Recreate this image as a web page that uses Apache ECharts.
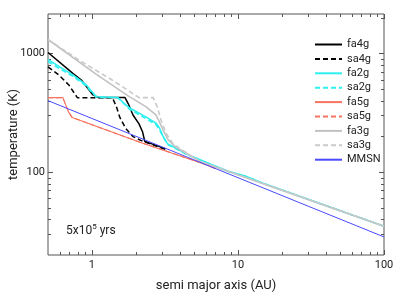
<!DOCTYPE html>
<html>
<head>
<meta charset="utf-8">
<script src="https://cdn.jsdelivr.net/npm/echarts@6/dist/echarts.min.js"></script>
<style>
html,body{margin:0;padding:0;background:#fff;}
#chart{width:416px;height:300px;}
</style>
</head>
<body>
<div id="chart"></div>
<script>
// ---- data (semi major axis in AU, temperature in K) ----
const fa4g = [[0.5,1019],[0.74,680],[0.846,597],[1.016,447],[1.1,426],[1.68,426],[1.77,378],[1.91,303],[2.1,255],[2.22,219],[2.3,181],[2.6,172],[3.2,157]];
const sa4g = [[0.5,770],[0.593,658],[0.695,542],[0.794,424],[1.38,424],[1.47,356],[1.55,290],[1.70,234],[1.91,199],[2.16,185],[2.6,170],[3.2,155]];
const fa2g = [[0.5,890],[0.6,771],[0.74,660],[0.915,542],[1.07,432],[1.1,425],[1.5,425],[1.8,348],[2.34,292],[2.75,258],[2.9,235],[3.05,203],[3.3,173],[3.8,158],[4.5,141],[5.2,131],[6.7,115],[8.7,101],[11.4,92],[15,80],[100,35]];
const sa2g = [[0.5,855],[0.6,745],[0.74,642],[0.9,540],[1.05,440],[1.1,425],[1.5,425],[1.8,340],[2.34,283],[2.75,250],[2.9,228],[3.05,200],[3.3,171],[3.8,156],[4.5,140],[5.2,130],[6.7,114],[8.7,100],[11.4,91.5],[15,80],[100,35]];
const fa5g = [[0.5,424],[0.632,424],[0.689,323],[0.733,288],[2.2,176],[6,116],[7,107]];
const sa5g = [[0.5,424],[0.632,424],[0.689,323],[0.733,288],[2.2,176],[6,116],[7,107]];
const fa3g = [[0.5,1311],[1.06,672],[1.80,432],[2.34,356],[2.74,303],[2.89,266],[3.08,224],[3.33,187],[3.76,162],[5.5,123],[100,35]];
const sa3g = [[0.5,1311],[0.814,880],[1.38,595],[2.1,424],[2.63,424],[2.81,351],[2.97,275],[3.21,213],[3.57,175],[3.96,159],[5.5,123],[100,35]];
const mmsn = [[0.5,400],[100,28.4]];

const seriesNames = ['fa4g','sa4g','fa2g','sa2g','fa5g','sa5g','fa3g','sa3g','MMSN'];

// ---- ticks ----
const xMajorTicks = [1, 10, 100];
const xMinorTicks = [0.6,0.7,0.8,0.9,2,3,4,5,6,7,8,9,20,30,40,50,60,70,80,90];
const yMajorTicks = [100, 1000];
const yMinorTicks = [30,40,50,60,70,80,90,200,300,400,500,600,700,800,900,2000];

const xMin = 0.5, xMax = 100, yMin = 20, yMax = 2150;

const axisColor = '#555';
const font = 'Roboto';

function isMajor(v, list) {
  return list.some(t => Math.abs(Math.log10(v) - Math.log10(t)) < 1e-6);
}

const tickData = [];
xMajorTicks.forEach(v => tickData.push([v, yMin, 0]));
xMinorTicks.forEach(v => tickData.push([v, yMin, 1]));
yMajorTicks.forEach(v => tickData.push([xMin, v, 2]));
yMinorTicks.forEach(v => tickData.push([xMin, v, 3]));

function mk(name, data, color, width, dashed) {
  return {
    name: name, type: 'line', data: data, symbol: 'none', showSymbol: false,
    animation: false, silent: true,
    lineStyle: { color: color, width: width, type: dashed ? [5, 3] : 'solid' },
    itemStyle: { color: color }
  };
}

const chart = echarts.init(document.getElementById('chart'), null, { renderer: 'canvas' });
chart.setOption({
  animation: false,
  backgroundColor: '#fff',
  grid: { left: 48, right: 32, top: 14, bottom: 45, show: true, borderColor: axisColor, borderWidth: 1, containLabel: false, outerBoundsMode: 'none' },
  title: {
    text: '{a|5x10}{s|5}{a| yrs}',
    left: 61, top: 218,
    textStyle: {
      fontWeight: 'normal',
      rich: {
        a: { fontSize: 12, fontFamily: font, color: '#222', fontWeight: 'normal' },
        s: { fontSize: 8, fontFamily: font, color: '#222', fontWeight: 'normal', padding: [0, 0, 8, 0] }
      }
    }
  },
  legend: {
    data: seriesNames,
    orient: 'vertical',
    left: 309, top: 34,
    itemWidth: 27, itemHeight: 10, itemGap: 3.4,
    itemStyle: { opacity: 0 },
    textStyle: { fontSize: 11, fontFamily: font, color: '#222', padding: [0, 0, 0, 0] },
    selectedMode: false
  },
  xAxis: {
    type: 'log', min: xMin, max: xMax, logBase: 10,
    name: 'semi major axis (AU)', nameLocation: 'middle', nameGap: 24, nameMoveOverlap: false,
    nameTextStyle: { fontSize: 13, fontFamily: font, color: '#222' },
    axisLine: { show: false },
    axisTick: { show: false },
    splitLine: { show: false },
    minorTick: { show: false },
    axisLabel: {
      fontSize: 11, fontFamily: font, color: '#222', margin: 5,
      showMinLabel: true, showMaxLabel: true,
      formatter: v => isMajor(v, xMajorTicks) ? String(Math.round(v)) : ''
    }
  },
  yAxis: {
    type: 'log', min: yMin, max: yMax, logBase: 10,
    name: 'temperature (K)', nameLocation: 'middle', nameGap: 28, nameMoveOverlap: false,
    nameTextStyle: { fontSize: 13, fontFamily: font, color: '#222' },
    axisLine: { show: false },
    axisTick: { show: false },
    splitLine: { show: false },
    minorTick: { show: false },
    axisLabel: {
      fontSize: 11, fontFamily: font, color: '#222', margin: 3,
      formatter: v => isMajor(v, yMajorTicks) ? String(Math.round(v)) : ''
    }
  },
  series: [
    mk('fa4g', fa4g, '#000000', 1.5, false),
    mk('sa4g', sa4g, '#000000', 1.5, true),
    mk('fa2g', fa2g, '#2ef0f0', 1.6, false),
    mk('sa2g', sa2g, '#2ef0f0', 1.6, true),
    mk('fa5g', fa5g, '#f7725f', 1.1, false),
    mk('sa5g', sa5g, '#f7725f', 1.1, true),
    mk('fa3g', fa3g, '#c2c2c2', 1.6, false),
    mk('sa3g', sa3g, '#cacaca', 1.6, true),
    mk('MMSN', mmsn, '#4a4aff', 1, false),
    {
      type: 'custom', name: 'ticks', silent: true, animation: false,
      data: tickData, encode: { x: 0, y: 1 }, clip: false,
      renderItem: function (params, api) {
        const kind = api.value(2);
        const p = api.coord([api.value(0), api.value(1)]);
        const cs = params.coordSys;
        const len = (kind === 0 || kind === 2) ? 5 : 3;
        const st = { stroke: axisColor, lineWidth: 1 };
        if (kind === 0 || kind === 1) {
          const x = Math.round(p[0]) + 0.5;
          const yb = cs.y + cs.height, yt = cs.y;
          return { type: 'group', children: [
            { type: 'line', shape: { x1: x, y1: yb, x2: x, y2: yb - len }, style: st },
            { type: 'line', shape: { x1: x, y1: yt, x2: x, y2: yt + len }, style: st }
          ]};
        } else {
          const y = Math.round(p[1]) + 0.5;
          const xl = cs.x, xr = cs.x + cs.width;
          return { type: 'group', children: [
            { type: 'line', shape: { x1: xl, y1: y, x2: xl + len, y2: y }, style: st },
            { type: 'line', shape: { x1: xr, y1: y, x2: xr - len, y2: y }, style: st }
          ]};
        }
      }
    }
  ]
});
</script>
</body>
</html>
